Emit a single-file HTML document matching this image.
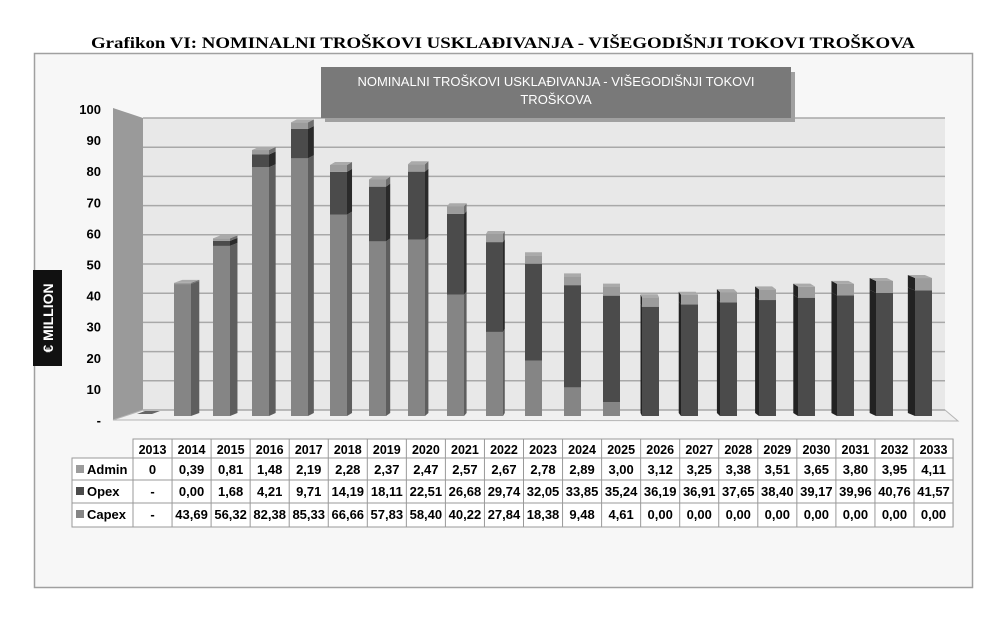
<!DOCTYPE html>
<html><head><meta charset="utf-8"><style>
body{margin:0;background:#fff;}
svg{display:block;}
</style></head><body>
<svg id="s" width="1006" height="626" xmlns="http://www.w3.org/2000/svg" font-family="Liberation Sans, sans-serif">
<rect width="1006" height="626" fill="#fff"/>
<text x="91" y="48" textLength="824" lengthAdjust="spacingAndGlyphs" font-family="Liberation Serif, serif" font-weight="bold" font-size="16">Grafikon VI: NOMINALNI TROŠKOVI USKLAĐIVANJA - VIŠEGODIŠNJI TOKOVI TROŠKOVA</text>
<rect x="34.5" y="53.5" width="938" height="534" fill="#f7f7f7" stroke="#a0a0a0" stroke-width="1.5"/>
<g id="g"></g>
</svg>
<script>
const g=document.getElementById('g');let h='';
const cap=[0,43.69,56.32,82.38,85.33,66.66,57.83,58.40,40.22,27.84,18.38,9.48,4.61,0,0,0,0,0,0,0,0];
const op=[0,0,1.68,4.21,9.71,14.19,18.11,22.51,26.68,29.74,32.05,33.85,35.24,36.19,36.91,37.65,38.40,39.17,39.96,40.76,41.57];
const ad=[0,0.39,0.81,1.48,2.19,2.28,2.37,2.47,2.57,2.67,2.78,2.89,3.00,3.12,3.25,3.38,3.51,3.65,3.80,3.95,4.11];
h+='<rect x="143" y="118" width="802" height="292" fill="#e8e8e8"/>';
h+='<polygon points="113,108 143,118 143,410 113,420" fill="#9a9a9a"/>';
h+='<polygon points="113,420 143,410 945,410 958,421" fill="#f0f0f0" stroke="#b5b5b5"/>';
for(let v=0;v<=100;v+=10){const y=410-v*2.92;h+=`<line x1="143" y1="${y}" x2="945" y2="${y}" stroke="#a8a8a8" stroke-width="1.5"/>`;
 const ly=420-v*3.11;h+=`<text x="101" y="${ly+5}" text-anchor="end" font-size="13" font-weight="bold">${v==0?'-':v}</text>`;}
h+='<rect x="325" y="72" width="470" height="50" fill="#a0a0a0"/>';
h+='<rect x="321" y="67" width="470" height="51" fill="#797979"/>';
h+='<text x="556" y="86" text-anchor="middle" fill="#fff" font-size="13">NOMINALNI TROŠKOVI USKLAĐIVANJA - VIŠEGODIŠNJI TOKOVI</text>';
h+='<text x="556" y="104" text-anchor="middle" fill="#fff" font-size="13">TROŠKOVA</text>';
h+='<rect x="33" y="270" width="29" height="96" fill="#111"/>';
h+='<text transform="translate(53,318) rotate(-90)" text-anchor="middle" fill="#fff" font-size="14" font-weight="bold">€ MILLION</text>';
const base=416,k=3.02,w=17;
for(let i=0;i<21;i++){
 const x=135+i*39;const cx=x+w/2;let d=-(cx-580)/48;if(Math.abs(d)<1)d=0;
 const segs=[[cap[i],'#858585','#5e5e5e'],[op[i],'#4b4b4b','#2a2a2a'],[ad[i],'#9c9c9c','#6e6e6e']];
 let y=base;
 if(i==0){h+=`<polygon points="${x+2},${base-2} ${x+w},${base-2} ${x+w+8},${base-5} ${x+10},${base-5}" fill="#666"/>`;continue;}
 for(const [v,c,s] of segs){if(v<=0)continue;const hh=v*k;const y2=y-hh;
  if(d>0)h+=`<polygon points="${x+w},${y} ${x+w},${y2} ${x+w+d},${y2-3} ${x+w+d},${y-3}" fill="${s}"/>`;
  else if(d<0)h+=`<polygon points="${x},${y} ${x},${y2} ${x+d},${y2-3} ${x+d},${y-3}" fill="#222"/>`;
  h+=`<rect x="${x}" y="${y2}" width="${w}" height="${hh}" fill="${c}"/>`;y=y2;}
 h+=`<polygon points="${x},${y} ${x+w},${y} ${x+w+d},${y-3} ${x+d},${y-3}" fill="#aaa"/>`;
}
const tx=133,cw=39.05,rows=[439,458,480,503,527];
h+=`<rect x="${tx}" y="439" width="${21*cw}" height="19" fill="#fff" stroke="#999"/>`;
h+=`<rect x="72" y="458" width="${tx-72+21*cw}" height="69" fill="#fff" stroke="#999"/>`;
for(let r=2;r<4;r++)h+=`<line x1="72" y1="${rows[r]}" x2="${tx+21*cw}" y2="${rows[r]}" stroke="#999"/>`;
for(let i=0;i<=21;i++){const x=tx+i*cw;h+=`<line x1="${x}" y1="439" x2="${x}" y2="527" stroke="#999"/>`;}
const lab=[['Admin','#9c9c9c',ad],['Opex','#4b4b4b',op],['Capex','#858585',cap]];
const fmt=v=>v.toFixed(2).replace('.',',');
for(let i=0;i<21;i++){const cx=tx+i*cw+cw/2;
 h+=`<text x="${cx}" y="454" text-anchor="middle" font-size="12.5" font-weight="bold">${2013+i}</text>`;
 lab.forEach((L,r)=>{const y=rows[r+1]+16;let t=i==0?(r==0?'0':'-'):fmt(L[2][i]);
  h+=`<text x="${cx}" y="${y}" text-anchor="middle" font-size="13" font-weight="bold">${t}</text>`;});}
lab.forEach((L,r)=>{const y=rows[r+1];h+=`<rect x="76" y="${y+7}" width="8" height="8" fill="${L[1]}"/><text x="87" y="${y+16}" font-size="13" font-weight="bold">${L[0]}</text>`;});
g.innerHTML=h;
</script>
</body></html>
